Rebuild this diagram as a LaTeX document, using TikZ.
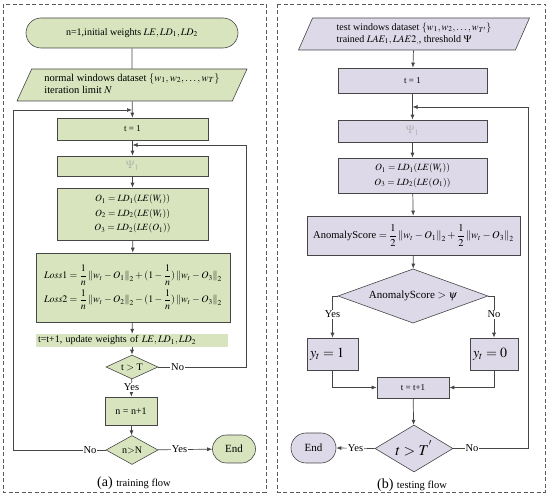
\documentclass[tikz,border=0pt]{standalone}
\usepackage{amsmath}
\usepackage{mathptmx}
\usepackage{fontspec}
\setmainfont{Liberation Serif}
\newfontfamily\tnr{Liberation Serif}
\usetikzlibrary{shapes.geometric,shapes.misc,arrows.meta,calc}
\definecolor{gfill}{RGB}{215,228,189}
\definecolor{pfill}{RGB}{221,217,232}
\definecolor{edge}{RGB}{70,70,70}
\definecolor{frm}{RGB}{90,90,90}
\newcommand{\fs}[1]{\fontsize{#1}{#1}\selectfont}
\begin{document}
\begin{tikzpicture}[x=1pt,y=-1pt,font=\tnr\fontsize{11}{13}\selectfont,
  box/.style={draw=edge,line width=0.6pt,rectangle,inner sep=1pt},
  term/.style={draw=edge,line width=0.6pt,rounded rectangle,inner sep=1pt},
  para/.style={draw=edge,line width=0.6pt,trapezium,trapezium left angle=60,trapezium right angle=120,trapezium stretches body,inner sep=1pt},
  dia/.style={draw=edge,line width=0.6pt,diamond,inner sep=0pt,aspect=2},
  conn/.style={draw=edge,line width=0.7pt},
  arr/.style={conn,-{Latex[length=5pt,width=4pt]}},
  lbl/.style={fill=white,inner sep=1pt,font=\tnr\fontsize{10.5}{12}\selectfont},
  frame/.style={draw=frm,line width=0.8pt,dash pattern=on 4pt off 2.5pt}]
\useasboundingbox (0,0) rectangle (550,497);
% ---------------- left panel ----------------
\draw[frame] (3,4) rectangle (266,492);
\node[term,fill=gfill,minimum width=214,minimum height=30] (s) at (132,33) {\fs{10}n=1,initial weights $LE, LD_1, LD_2$};
\node[para,fill=gfill,minimum width=230,minimum height=32] (d) at (132,85) {\fs{10.5}\begin{tabular}{@{}l@{}}normal windows dataset $\{w_1, w_2,\ldots, w_T\}$\\[2pt] iteration limit $N$\end{tabular}\hspace{6pt}};
\node[box,fill=gfill,minimum width=151,minimum height=22] (t1) at (132.5,129) {\fs{9}t = 1};
\node[box,fill=gfill,minimum width=151,minimum height=20] (p1) at (132.5,166) {\textcolor{gray!60}{$\Psi_{1}$}};
\node[box,fill=gfill,minimum width=151,minimum height=52,align=center,font=\tnr\fs{9.5}] (o1) at (132.5,214) {$O_1 = LD_1(LE(W_t))$\\[5pt] $O_2 = LD_2(LE(W_t))$\\[5pt] $O_3 = LD_2(LE(O_1))$};
\node[box,fill=gfill,minimum width=194,minimum height=69,align=left,font=\tnr\fs{10}] (l1) at (133,287.5) {$\mathit{Loss}1 = \dfrac{1}{n}\left\| w_t - O_1\right\|_2 + (1-\dfrac{1}{n})\left\| w_t - O_3\right\|_2$\\[3pt] $\mathit{Loss}2 = \dfrac{1}{n}\left\| w_t - O_2\right\|_2 - (1-\dfrac{1}{n})\left\| w_t - O_3\right\|_2$};
\node[fill=gfill,rectangle,inner sep=1pt,minimum width=192,minimum height=13,text width=188,align=left,font=\tnr\fs{10}] (u1) at (132,340.5) {t=t+1, update weights of $LE, LD_1, LD_2$};
\node[dia,fill=gfill,minimum width=52,minimum height=24] (c1) at (132,367) {\fs{10}t $>$ T};
\node[box,fill=gfill,minimum width=52,minimum height=28] (n1) at (131,411) {\fs{10}n = n+1};
\node[dia,fill=gfill,minimum width=52,minimum height=29] (c2) at (132,450) {\fs{10}n$>$N};
\node[term,fill=gfill,minimum width=45,minimum height=28] (e1) at (234,449) {End};
\coordinate (ll) at (13,110);
\coordinate (rl) at (246,145);
\draw[conn] (s) -- (d);
\draw[arr] (d) -- (t1);
\draw[arr] (t1) -- (p1);
\draw[arr] (p1) -- (o1);
\draw[arr] (o1) -- (l1);
\draw[arr] (l1) -- (u1);
\draw[arr] (u1) -- (c1);
\draw[arr] (c1) -- node[lbl,pos=0.45]{Yes} (n1);
\draw[arr] (n1) -- (c2);
\draw[arr] (c2) -- node[lbl,pos=0.4]{Yes} (e1);
\draw[arr] (c1.east) -- node[lbl,pos=0.22]{No} (c1.east -| rl) -- (rl) -- (t1.south |- rl);
\draw[arr] (c2.west) -- node[lbl,pos=0.17]{No} (c2.west -| ll) -- (ll) -- (d.south |- ll);
\node at (134,483) {\fs{14}(a) {\fs{10.5}training flow}};
% ---------------- right panel ----------------
\draw[frame] (277,4) rectangle (545,492);
\node[para,fill=pfill,minimum width=231,minimum height=32] (d2) at (414,34) {\fs{10}\begin{tabular}{@{}l@{}}test windows dataset $\{w_1, w_2,\ldots, w_{T'}\}$\\[2pt] trained $LAE_1, LAE2_{,}$, threshold $\Psi$\end{tabular}};
\node[box,fill=pfill,minimum width=149,minimum height=25] (t2) at (412.5,80.5) {\fs{9}t = 1};
\node[box,fill=pfill,minimum width=149,minimum height=22] (p2) at (412.5,131) {\textcolor{gray!60}{$\Psi_{1}$}};
\node[box,fill=pfill,minimum width=149,minimum height=35,align=center,font=\tnr\fs{9.5}] (o2) at (412.5,175.5) {$O_1 = LD_1(LE(W_t))$\\[5pt] $O_3 = LD_2(LE(O_1))$};
\node[box,fill=pfill,minimum width=213,minimum height=39] (a2) at (413.5,235.5) {\fs{10.5}AnomalyScore $= \dfrac{1}{2}\left\| w_t - O_1\right\|_2 + \dfrac{1}{2}\left\| w_t - O_3\right\|_2$};
\node[dia,fill=pfill,minimum width=150,minimum height=39] (c3) at (413,296) {AnomalyScore $> \psi$};
\node[box,fill=pfill,minimum width=51,minimum height=32,text width=45,align=left] (y1) at (332.5,354) {\fs{14}$y_t = 1$};
\node[box,fill=pfill,minimum width=48,minimum height=32,text width=42,align=left] (y0) at (494,354) {\fs{14}$y_t = 0$};
\node[box,fill=pfill,minimum width=72,minimum height=21] (t3) at (413,387.5) {\fs{9}t = t+1};
\node[dia,fill=pfill,minimum width=78,minimum height=47] (c4) at (414,448.5) {\fs{15}$t > T^{'}$};
\node[term,fill=pfill,minimum width=47,minimum height=30] (e2) at (313.5,448) {End};
\coordinate (rr) at (528,107);
\draw[arr] (d2) -- (t2);
\draw[arr] (t2) -- (p2);
\draw[arr] (p2) -- (o2);
\draw[arr] (o2) -- (a2);
\draw[arr] (a2) -- (c3);
\draw[arr] (c3.west) -| node[lbl,pos=0.72]{Yes} (y1.north);
\draw[arr] (c3.east) -| node[lbl,pos=0.72]{No} (y0.north);
\draw[arr] (y1.south) |- (t3.west);
\draw[arr] (y0.south) |- (t3.east);
\draw[arr] (t3) -- (c4);
\draw[arr] (c4.west) -- node[lbl,pos=0.5]{Yes} (e2.east);
\draw[arr] (c4.east) -- node[lbl,pos=0.25]{No} (c4.east -| rr) -- (rr) -- (t2.south |- rr);
\node at (412,485) {\fs{14}(b) {\fs{10.5}testing flow}};
\end{tikzpicture}
\end{document}
